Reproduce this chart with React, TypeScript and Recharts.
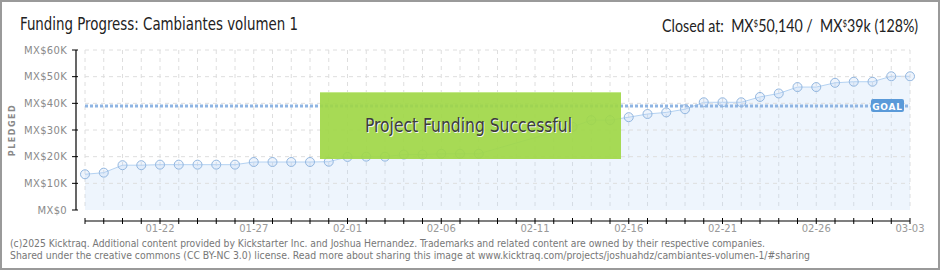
import React from 'react';
import { AreaChart, Area, XAxis, YAxis, CartesianGrid, ReferenceLine } from 'recharts';

const dates = [
  '01-18', '01-19', '01-20', '01-21', '01-22', '01-23', '01-24', '01-25', '01-26', '01-27',
  '01-28', '01-29', '01-30', '01-31', '02-01', '02-02', '02-03', '02-04', '02-05', '02-06',
  '02-07', '02-08', '02-09', '02-10', '02-11', '02-12', '02-13', '02-14', '02-15', '02-16',
  '02-17', '02-18', '02-19', '02-20', '02-21', '02-22', '02-23', '02-24', '02-25', '02-26',
  '02-27', '02-28', '03-01', '03-02', '03-03',
];

// MX$ pledged per day (null = no reading that day)
const pledged = [
  13400, 14000, 16800, 16800, 17000, 17000, 17000, 17000, 17000, 18000,
  18000, 18000, 18000, 18100, 19900, 20000, 20000, 20800, 20800, 21100,
  21100, 21100, null, null, null, null, 31200, 33700, 33700, 34800,
  36000, 36600, 37800, 40400, 40400, 40400, 42400, 43700, 46100, 46100,
  47700, 48100, 48100, 50140, 50140,
];

const labeledDates = ['01-22', '01-27', '02-01', '02-06', '02-11', '02-16', '02-21', '02-26', '03-03'];
const yTicks = [0, 5000, 10000, 15000, 20000, 25000, 30000, 35000, 40000, 45000, 50000, 55000, 60000];
const gridValues = [10000, 20000, 30000, 40000, 50000, 60000];
const GOAL = 39000;

const AXIS_X = 76;
const PLOT_LEFT = 85;
const PLOT_RIGHT = 910;
const PLOT_TOP = 50;
const PLOT_BOTTOM = 210;
const X_AXIS_Y = 221;

const pixelFont = '"DejaVu Sans", sans-serif';
const narrowFont = '"DejaVu Sans Condensed", "DejaVu Sans", sans-serif';
const headFont = 'Lato, "DejaVu Sans", sans-serif';

const fmtMoney = (v: number) => (v === 0 ? 'MX$0' : `MX$${v / 1000}K`);

const YTick = (props: any) => {
  const { y, payload } = props;
  const v = payload.value as number;
  const major = v % 10000 === 0;
  return (
    <g>
      <line x1={AXIS_X - 4} x2={major ? AXIS_X + 2 : AXIS_X} y1={y} y2={y} stroke={major ? '#000' : '#e00000'} strokeWidth={1} />
      {major && (
        <text x={AXIS_X - 9} y={y} dy={3.5} textAnchor="end" fontSize={10} fill="#8a8a8a" fontFamily={pixelFont} letterSpacing={0.3}>
          {fmtMoney(v)}
        </text>
      )}
    </g>
  );
};

const XTick = (props: any) => {
  const { x, payload } = props;
  const show = labeledDates.includes(payload.value);
  return (
    <g>
      <line x1={x} x2={x} y1={X_AXIS_Y - 3} y2={X_AXIS_Y + 3} stroke="#000" strokeWidth={1} />
      {show && (
        <text x={x} y={X_AXIS_Y + 11} textAnchor="middle" fontSize={10} fill="#999" fontFamily={pixelFont}>
          {payload.value}
        </text>
      )}
    </g>
  );
};

const GoalLabel = (props: any) => {
  const { viewBox } = props;
  const right = viewBox.x + viewBox.width - 6;
  return (
    <g>
      <rect x={right - 33} y={viewBox.y - 7} width={33} height={13} rx={2} fill="#5a9ad9" />
      <text x={right - 16.5} y={viewBox.y + 3.5} textAnchor="middle" fontSize={9} fontWeight="bold" fill="#fff" fontFamily={pixelFont} letterSpacing={0.8}>
        GOAL
      </text>
    </g>
  );
};

const sup: React.CSSProperties = { fontSize: 10, verticalAlign: 5 };

export default function App() {
  const data = dates.map((d, i) => ({ date: d, pledged: pledged[i] }));

  return (
    <div style={{ position: 'absolute', left: 0, top: 0, width: 940, height: 270, background: '#fff', overflow: 'hidden' }}>
      <AreaChart width={940} height={270} data={data} margin={{ top: PLOT_TOP, right: 940 - PLOT_RIGHT, bottom: 0, left: 25 }}>
        <CartesianGrid horizontal={false} stroke="#dedede" strokeDasharray="4 4" />
        {gridValues.map(v => (
          <ReferenceLine key={v} y={v} stroke="#dedede" strokeDasharray="4 4" />
        ))}
        <XAxis dataKey="date" scale="point" interval={0} height={60} axisLine={false} tickLine={false} tick={<XTick />} />
        <YAxis domain={[0, 60000]} ticks={yTicks} width={60} axisLine={false} tickLine={false} tick={<YTick />} />
        <ReferenceLine y={GOAL} stroke="#8fb5e3" strokeWidth={3} strokeDasharray="3 2" label={<GoalLabel />} />
        <Area
          type="linear"
          dataKey="pledged"
          stroke="#b4d2f2"
          strokeWidth={1}
          fill="#bcd9f7"
          fillOpacity={0.25}
          connectNulls
          dot={{ r: 4.5, fill: '#bad5f4', stroke: '#93b7e0', strokeWidth: 1 }}
          activeDot={false}
          isAnimationActive={false}
        />
      </AreaChart>

      <div
        style={{
          position: 'absolute', left: 320, top: 92, width: 301, height: 66,
          background: 'rgba(160, 215, 70, 0.92)', borderTop: '1px solid #c3e98a',
        }}
      />

      <div
        style={{
          position: 'absolute', right: 22, top: 14, lineHeight: '18px', whiteSpace: 'pre',
          fontFamily: headFont, fontSize: 18, color: '#222',
          transform: 'scaleX(0.79)', transformOrigin: 'right center',
        }}
      >
        {'Closed at:  MX'}<span style={sup}>$</span>{'50,140 /  MX'}<span style={sup}>$</span>{'39k (128%)'}
      </div>

      <svg width={940} height={270} style={{ position: 'absolute', left: 0, top: 0, pointerEvents: 'none' }}>
        <line x1={AXIS_X} x2={AXIS_X} y1={PLOT_TOP} y2={PLOT_BOTTOM} stroke="#000" strokeWidth={1.2} />
        <line x1={PLOT_LEFT} x2={PLOT_RIGHT} y1={X_AXIS_Y} y2={X_AXIS_Y} stroke="#000" strokeWidth={1.2} />

        <text x={365} y={132} fontSize={19} fill="#3c3c3c" fontFamily={narrowFont} textLength={207} lengthAdjust="spacingAndGlyphs"
          style={{ textShadow: '1px 1px 0 #f4f4f4' }}>
          Project Funding Successful
        </text>

        <text x={20} y={30} fontSize={18} fill="#222" fontFamily={narrowFont} textLength={278} lengthAdjust="spacingAndGlyphs">
          Funding Progress: Cambiantes volumen 1
        </text>

        <text transform="translate(15,130) rotate(-90)" textAnchor="middle" fontSize={8} fontWeight="bold" fill="#888" fontFamily={pixelFont} letterSpacing={1.5}>
          PLEDGED
        </text>

        <text x={10} y={247} fontSize={11} fill="#777" fontFamily={narrowFont} textLength={755} lengthAdjust="spacingAndGlyphs">
          (c)2025 Kicktraq. Additional content provided by Kickstarter Inc. and Joshua Hernandez. Trademarks and related content are owned by their respective companies.
        </text>
        <text x={10} y={259} fontSize={11} fill="#777" fontFamily={narrowFont} textLength={800} lengthAdjust="spacingAndGlyphs">
          Shared under the creative commons (CC BY-NC 3.0) license. Read more about sharing this image at www.kicktraq.com/projects/joshuahdz/cambiantes-volumen-1/#sharing
        </text>
      </svg>

      <div style={{ position: 'absolute', left: 0, top: 0, width: 940, height: 270, boxSizing: 'border-box', border: '2px solid #9a9a9a', pointerEvents: 'none' }} />
    </div>
  );
}
